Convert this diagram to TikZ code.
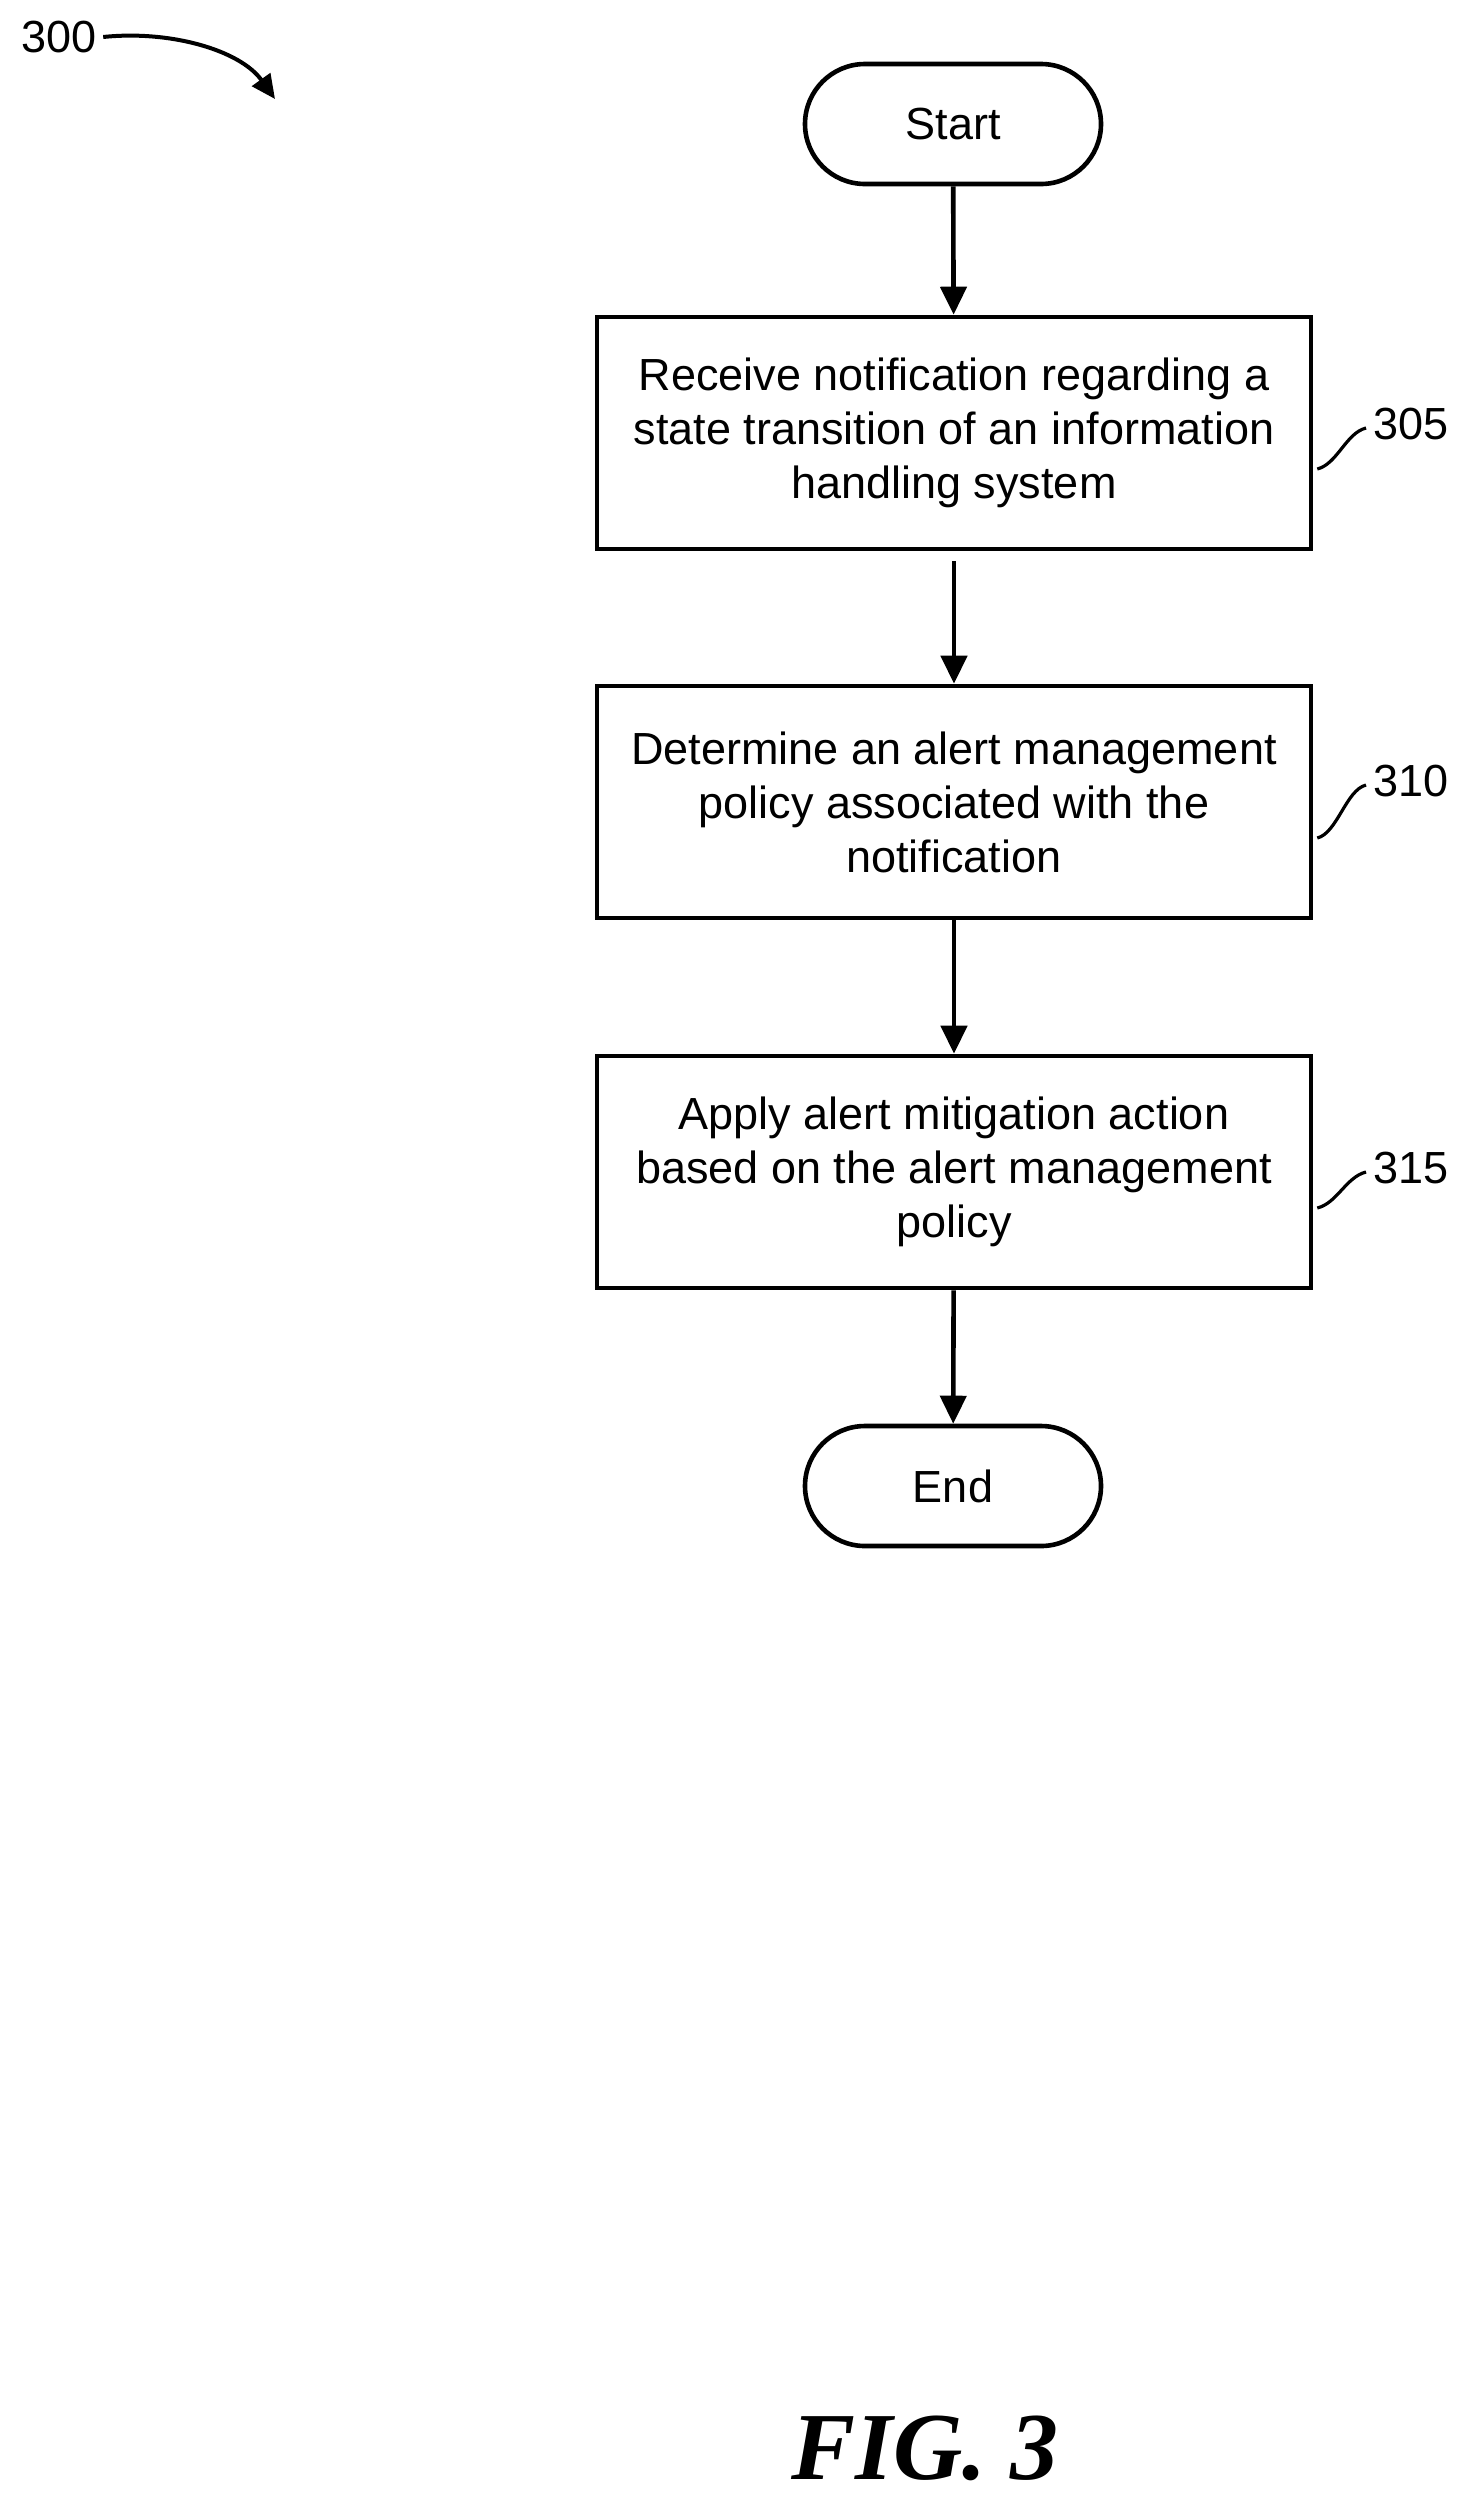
\documentclass[tikz,border=0pt]{standalone}
\usepackage{fontspec}
\setmainfont{Liberation Sans}
\newfontfamily\figfont{Liberation Serif}
\usetikzlibrary{arrows.meta}
\begin{document}
\begin{tikzpicture}[x=0.5pt,y=-0.5pt,
  every node/.style={font=\fontsize{22.5}{27}\selectfont},
  box/.style={draw,line width=2.3pt,minimum width=357pt,minimum height=116pt,align=center,inner sep=0pt},
  term/.style={draw,line width=2.3pt,rounded corners=30pt,minimum width=148pt,minimum height=60pt},
  arr/.style={line width=2.3pt,-{Triangle[length=14pt,width=13pt]}},
  sq/.style={line width=1.6pt},
  lab/.style={anchor=west}]
\useasboundingbox (0,0) rectangle (1468,2507);
\node[term] (start) at (953,124) {Start};
\node[box] (b1) at (954,433) {Receive notification regarding a\\state transition of an information\\handling system};
\node[box] (b2) at (954,802) {Determine an alert management\\policy associated with the\\notification};
\node[box] (b3) at (954,1172) {Apply alert mitigation action\\based on the alert management\\policy};
\node[term] (end) at (953,1486) {End};
\draw[arr] (start) -- (b1);
\draw[arr] ([yshift=-5pt]b1.south) -- (b2);
\draw[arr] (b2) -- (b3);
\draw[arr] (b3) -- (end);
\foreach \b/\t/\y in {b1/305/424,b2/310/781,b3/315/1168}{
  \node[lab] (l\t) at (1366,\y) {\t};
  \draw[sq] ([xshift=2pt,yshift=-18pt]\b.east) .. controls +(20,-5) and +(-20,5) .. ([yshift=-2pt]l\t.west);
}
\node[lab] (n300) at (14,37) {300};
\coordinate (a300) at (275,99);
\draw[line width=2pt,-{Triangle[length=12pt,width=11pt]}] (n300.east) .. controls (170,30) and (240,50) .. (a300);
\node[font=\figfont\bfseries\itshape\fontsize{48}{50}\selectfont] (fig) at (925,2448) {FIG. 3};
\end{tikzpicture}
\end{document}
